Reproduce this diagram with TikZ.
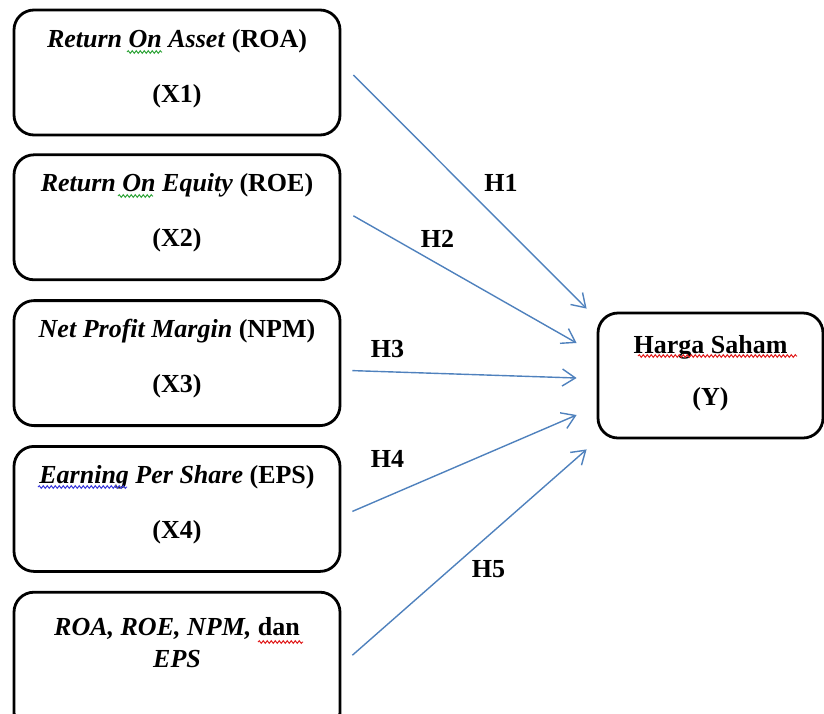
\documentclass[tikz,border=0pt]{standalone}
\usepackage{fontspec}
\setmainfont{Liberation Serif}
\usetikzlibrary{positioning,arrows.meta,calc,decorations.pathmorphing}
\definecolor{arrowblue}{RGB}{79,129,189}
\definecolor{spellred}{RGB}{225,30,30}
\definecolor{spellgreen}{RGB}{50,165,60}
\definecolor{spellblue}{RGB}{60,60,220}

\begin{document}
\begin{tikzpicture}[
  x=1pt, y=1pt,
  var/.style={draw=black, line width=2.8pt, rounded corners=20pt,
    minimum width=326pt, minimum height=125pt, inner sep=0pt, align=center,
    font=\fontsize{26}{31}\selectfont\bfseries},
  ar/.style={-{Straight Barb[length=13pt,width=17pt]}, line width=1.4pt, color=arrowblue},
  hl/.style={font=\fontsize{26}{31}\selectfont\bfseries, inner sep=0pt},
  wave/.style={decorate, decoration={snake, segment length=4pt, amplitude=1.3pt}, line width=1pt}
]
\useasboundingbox (0,0) rectangle (824,-713);
% variabel independen
\node[var, text depth=14pt] (x1) at (177,-72.5) {\textit{Return On Asset} (ROA)\\[24pt] (X1)};
\node[var, text depth=14pt, below=17pt of x1] (x2) {\textit{Return On Equity} (ROE)\\[24pt] (X2)};
\node[var, text depth=14pt, below=18pt of x2] (x3) {\textit{Net Profit Margin} (NPM)\\[24pt] (X3)};
\node[var, text depth=14pt, below=18pt of x3] (x4) {\textit{Earning Per Share} (EPS)\\[24pt] (X4)};
\node[var, minimum height=140pt, text depth=40pt, below=18pt of x4] (x5) {\textit{ROA, ROE, NPM,} dan\\[1pt] \textit{EPS}};
% variabel dependen
\node[var, minimum width=225pt, text depth=11pt] (y) at (710.5,-375.5) {Harga Saham\\[21pt] (Y)};
% hipotesis
\draw[ar] ([shift={(12pt,-2.5pt)}]x1.east) -- ([shift={(-10pt,3pt)}]y.north west);
\draw[ar] ([shift={(12pt,1.5pt)}]x2.east) -- ([shift={(-20pt,32.5pt)}]y.west);
\draw[ar] ([shift={(11pt,-7.5pt)}]x3.east) -- ([shift={(-20pt,-2.5pt)}]y.west);
\draw[ar] ([shift={(11pt,-2.5pt)}]x4.east) -- ([shift={(-20pt,-39.5pt)}]y.west);
\draw[ar] ([shift={(11pt,7pt)}]x5.east) -- ([shift={(-10pt,-10pt)}]y.south west);
\node[hl] (h1) at (501,-183) {H1};
\node[hl] (h2) at (437.5,-238.5) {H2};
\node[hl] (h3) at (387.5,-349) {H3};
\node[hl] (h4) at (387.5,-459) {H4};
\node[hl] (h5) at (488.5,-569) {H5};
% garis ejaan
\foreach \a/\b/\h/\c in {127/162/52/spellgreen, 118/153/196/spellgreen,
  38/127/487/spellblue, 258/303/642/spellred, 638/797/356/spellred}
  \draw[wave, \c] (\a,-\h) -- (\b,-\h);
\end{tikzpicture}
\end{document}
